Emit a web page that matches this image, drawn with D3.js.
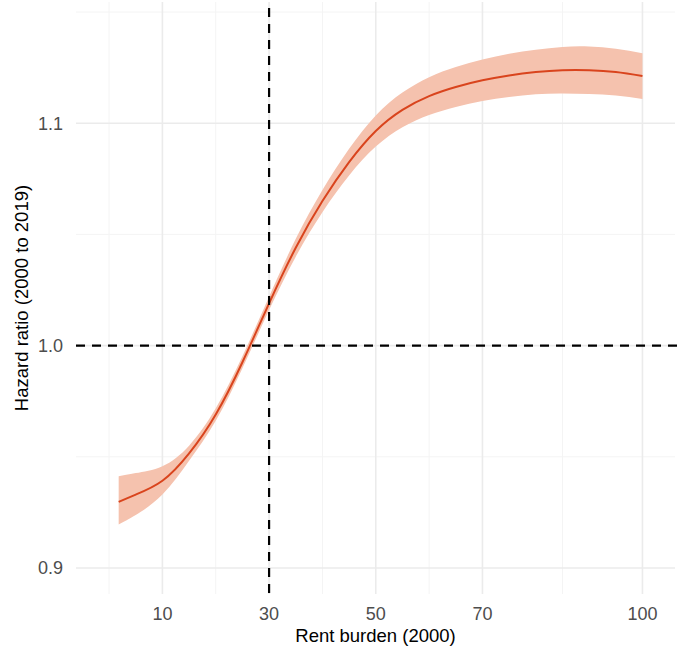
<!DOCTYPE html>
<html>
<head>
<meta charset="utf-8">
<script src="https://cdn.jsdelivr.net/npm/d3@7"></script>
<style>
  body { margin: 0; background: #fff; }
  text { font-family: "Liberation Sans", Arial, sans-serif; }
</style>
</head>
<body>
<svg width="688" height="653"></svg>
<script>
// rent burden values where the fitted curve was read
const rentBurden = [1.8, 5, 10, 15, 20, 25, 30, 35, 40, 45, 50, 55, 60, 65, 70, 75, 80, 85, 90, 95, 100]
// hazard ratio fit and confidence band
const hrFit   = [0.9297, 0.9330, 0.9392, 0.9515, 0.9690, 0.9925, 1.0190, 1.0440, 1.0650, 1.0825, 1.0965, 1.1060, 1.1122, 1.1163, 1.1193, 1.1215, 1.1230, 1.1238, 1.1238, 1.1230, 1.1212]
const hrLower = [0.9196, 0.9238, 0.9330, 0.9482, 0.9662, 0.9898, 1.0160, 1.0400, 1.0600, 1.0765, 1.0895, 1.0982, 1.1037, 1.1073, 1.1100, 1.1118, 1.1130, 1.1133, 1.1131, 1.1125, 1.1109]
const hrUpper = [0.9412, 0.9427, 0.9458, 0.9550, 0.9718, 0.9952, 1.0220, 1.0480, 1.0700, 1.0885, 1.1035, 1.1138, 1.1207, 1.1253, 1.1286, 1.1312, 1.1330, 1.1343, 1.1345, 1.1335, 1.1315]

const xMajor = [10, 30, 50, 70, 100]
const xMinor = [0, 20, 40, 60, 85]
const yMajor = [0.9, 1.0, 1.1]
const yMinor = [0.95, 1.05, 1.15]
const xRef = 30
const yRef = 1.0

const svg = d3.select('svg')
const panel = {left: 76, right: 675, top: 2, bottom: 594}

const x = d3.scaleLinear().domain([-6.2, 106.1]).range([panel.left, panel.right])
const y = d3.scaleLinear().domain([0.8883, 1.1545]).range([panel.bottom, panel.top])

const data = rentBurden.map((d, i) => ({x: d, fit: hrFit[i], lo: hrLower[i], hi: hrUpper[i]}))

// grid (theme_minimal look)
const grid = svg.append('g')
grid.selectAll('.vmin').data(xMinor).enter().append('line')
  .attr('x1', d => x(d)).attr('x2', d => x(d))
  .attr('y1', panel.top).attr('y2', panel.bottom)
  .attr('stroke', '#f4f4f4').attr('stroke-width', 1)
grid.selectAll('.hmin').data(yMinor).enter().append('line')
  .attr('x1', panel.left).attr('x2', panel.right)
  .attr('y1', d => y(d)).attr('y2', d => y(d))
  .attr('stroke', '#f4f4f4').attr('stroke-width', 1)
grid.selectAll('.vmaj').data(xMajor).enter().append('line')
  .attr('x1', d => x(d)).attr('x2', d => x(d))
  .attr('y1', panel.top).attr('y2', panel.bottom)
  .attr('stroke', '#ebebeb').attr('stroke-width', 1.6)
grid.selectAll('.hmaj').data(yMajor).enter().append('line')
  .attr('x1', panel.left).attr('x2', panel.right)
  .attr('y1', d => y(d)).attr('y2', d => y(d))
  .attr('stroke', '#ebebeb').attr('stroke-width', 1.6)

// confidence band + fit
const band = d3.area()
  .x(d => x(d.x)).y0(d => y(d.lo)).y1(d => y(d.hi))
  .curve(d3.curveNatural)
svg.append('path').datum(data)
  .attr('d', band)
  .attr('fill', '#f5c2ae')

const line = d3.line()
  .x(d => x(d.x)).y(d => y(d.fit))
  .curve(d3.curveNatural)
svg.append('path').datum(data)
  .attr('d', line)
  .attr('fill', 'none')
  .attr('stroke', '#d9441d')
  .attr('stroke-width', 2)

// reference lines
svg.append('line')
  .attr('x1', panel.left).attr('x2', panel.right + 3)
  .attr('y1', y(yRef)).attr('y2', y(yRef))
  .attr('stroke', '#000').attr('stroke-width', 2.2)
  .attr('stroke-dasharray', '9,7')
svg.append('line')
  .attr('x1', x(xRef)).attr('x2', x(xRef))
  .attr('y1', panel.top + 6).attr('y2', panel.bottom)
  .attr('stroke', '#000').attr('stroke-width', 2.2)
  .attr('stroke-dasharray', '9,7')

// tick labels
svg.append('g').selectAll('text').data(xMajor).enter().append('text')
  .attr('x', d => x(d)).attr('y', 620)
  .attr('text-anchor', 'middle')
  .attr('font-size', 18).attr('fill', '#4d4d4d')
  .text(d => d)

svg.append('g').selectAll('text').data(yMajor).enter().append('text')
  .attr('x', 63).attr('y', d => y(d))
  .attr('dy', '0.36em')
  .attr('text-anchor', 'end')
  .attr('font-size', 18).attr('fill', '#4d4d4d')
  .text(d => d3.format('.1f')(d))

// axis titles
svg.append('text')
  .attr('x', (panel.left + panel.right) / 2).attr('y', 642)
  .attr('text-anchor', 'middle')
  .attr('font-size', 18.5).attr('fill', '#000')
  .text('Rent burden (2000)')

svg.append('text')
  .attr('transform', 'translate(28,' + (panel.top + panel.bottom) / 2 + ') rotate(-90)')
  .attr('text-anchor', 'middle')
  .attr('font-size', 18.5).attr('fill', '#000')
  .text('Hazard ratio (2000 to 2019)')
</script>
</body>
</html>
